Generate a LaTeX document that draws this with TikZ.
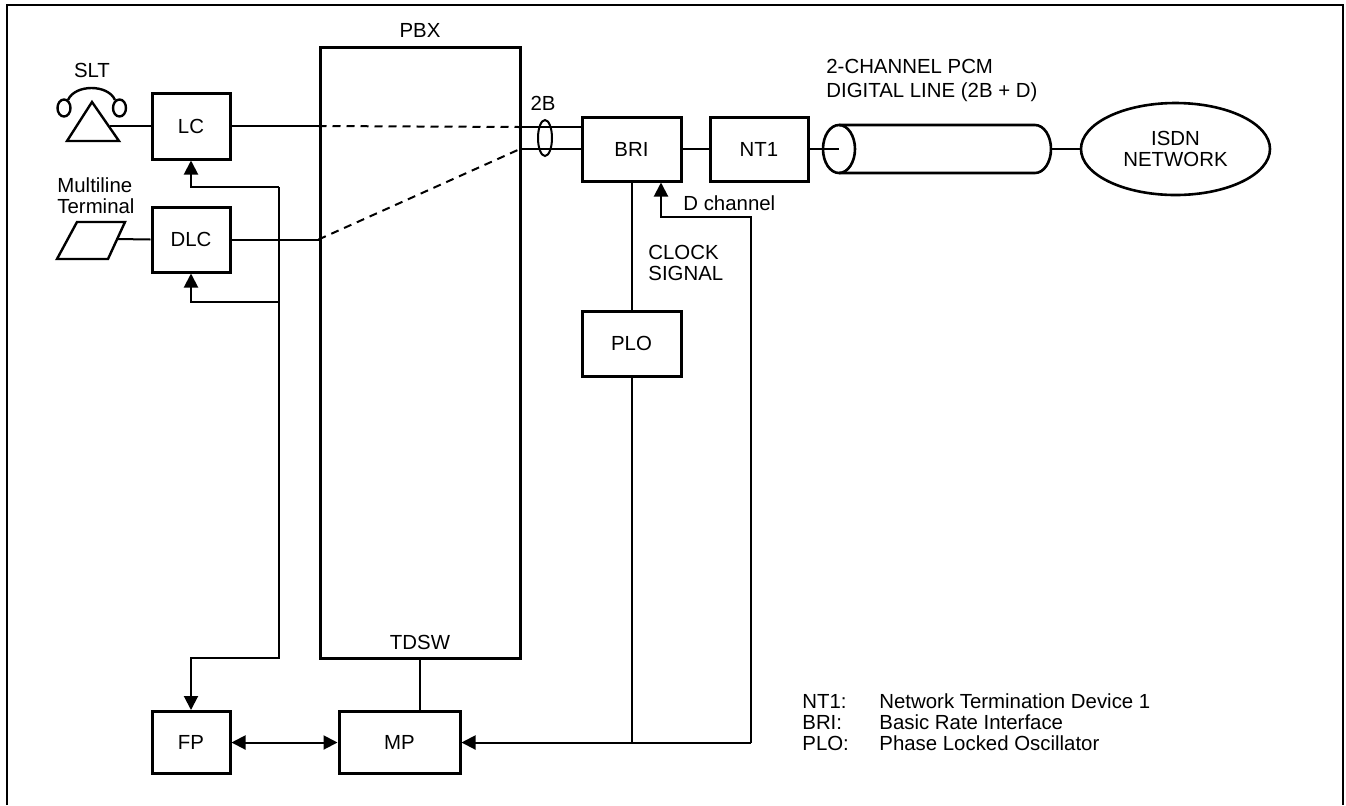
\documentclass[tikz,border=0pt]{standalone}
\usepackage{fontspec}
\setmainfont{Liberation Sans}
\usetikzlibrary{arrows.meta,shapes.geometric}

\begin{document}
\begin{tikzpicture}[x=0.5pt,y=-0.5pt,>={Triangle[length=7pt,width=7pt]},
  font=\fontsize{10.2}{10.5}\selectfont,
  box/.style={draw,line width=1.5pt,inner sep=0pt},
  wire/.style={line width=1pt},
  note/.style={anchor=west,inner sep=0pt,align=left}]

  \useasboundingbox (0,0) rectangle (1346,805);

  % Frame
  \draw[line width=1.3pt] (7,805) -- (7,5) -- (1343,5) -- (1343,805);

  % Boxes
  \node[box, minimum width=39pt, minimum height=33pt] (lc) at (191,126) {LC};
  \node[box, minimum width=39pt, minimum height=32.5pt] (dlc) at (191,239.5) {DLC};
  \node[box, minimum width=100pt, minimum height=305.5pt] (pbx) at (420,352.5) {};
  \node (pbxname) at (420,30) {PBX};
  \node (tdsw) at (420,642) {TDSW};
  \node[box, minimum width=49.5pt, minimum height=32pt] (bri) at (631.5,149) {BRI};
  \node[box, minimum width=49pt, minimum height=32pt] (nt1) at (759,149) {NT1};
  \node[box, minimum width=49.5pt, minimum height=32.5pt] (plo) at (631.5,343.5) {PLO};
  \node[box, minimum width=39pt, minimum height=31pt] (fp) at (191,742.5) {FP};
  \node[box, minimum width=60.5pt, minimum height=31pt] (mp) at (399.5,742.5) {MP};
  \node[ellipse, draw, line width=1.3pt, minimum width=94.5pt, minimum height=46pt,
    inner sep=0pt, align=center] (isdn) at (1175.5,149) {ISDN\\NETWORK};

  % Telephone
  \draw[line width=1.2pt] (92,102) -- (67,141) -- (119,141) -- cycle;
  \draw[line width=1.2pt] (64,108) ellipse [x radius=6.5, y radius=8.5];
  \draw[line width=1.2pt] (119.5,108) ellipse [x radius=6.5, y radius=8.5];
  \draw[line width=1.2pt] (68,100) .. controls (75,84) and (108,84) .. (115,100);
  \node (slt) at (92,70) {SLT};
  \coordinate (phone) at (110,126);

  % Terminal
  \draw[line width=1.2pt] (57,259) -- (108,259) -- (125,222) -- (77,222) -- cycle;
  \node[note] (mlt) at (57,196) {Multiline\\Terminal};
  \coordinate (term) at (117,239);

  % Lines through the PBX
  \coordinate (b1) at (520,127);
  \coordinate (b2) at (520,149);
  \draw[wire] (phone) -- (lc.west);
  \draw[wire] (term) -- (dlc.west);
  \draw[wire] (lc.east) -- (lc.east -| pbx.west);
  \draw[wire] (dlc.east) -- (dlc.east -| pbx.west);
  \draw[wire, dash pattern=on 4pt off 3pt] (lc.east -| pbx.west) -- (b1);
  \draw[wire, dash pattern=on 4pt off 3pt] (dlc.east -| pbx.west) -- (b2);
  \draw[wire] (b1) -- (b1 -| bri.west);
  \draw[wire] (b2) -- (bri.west);
  \draw[wire] (545,138) ellipse [x radius=7, y radius=18];
  \node (twob) at (543,103) {2B};

  % Digital line
  \coordinate (pcml) at (839,149);
  \coordinate (pcmr) at (1051,149);
  \draw[wire] (bri) -- (nt1);
  \draw[line width=1.3pt] (pcml) ellipse [x radius=16, y radius=24];
  \draw[line width=1.3pt] (839,125) -- (1035,125)
    arc[start angle=-90, end angle=90, x radius=16, y radius=24] -- (839,173);
  \draw[wire] (nt1) -- (pcml);
  \draw[wire] (pcmr) -- (isdn);
  \node[note] (pcm) at (826,80) {2-CHANNEL PCM\\[1.5pt]DIGITAL LINE (2B + D)};

  % Clock and D channel
  \coordinate (dtap) at (661,217);
  \coordinate (djoin) at (751,742.5);
  \draw[wire] (bri.south) -- (plo.north);
  \draw[wire] (plo.south) -- (plo.south |- djoin);
  \draw[wire,->] (djoin) |- (dtap) -- (dtap |- bri.south);
  \draw[wire,->] (djoin) -- (mp.east);
  \node[note] (clk) at (648,263) {CLOCK\\SIGNAL};
  \node[note] (dch) at (683,203) {D channel};

  % Control lines
  \coordinate (bus) at (279,187);
  \coordinate (dlctap) at (279,302);
  \coordinate (busend) at (279,658);
  \draw[wire,->] (bus) -| (lc.south);
  \draw[wire,->] (dlctap) -| (dlc.south);
  \draw[wire,->] (bus) -- (busend) -| (fp.north);
  \draw[wire] (pbx.south) -- (pbx.south |- mp.north);
  \draw[wire,<->] (fp.east) -- (mp.west);

  % Legend
  \node[note] (keynt) at (802,701) {NT1:};
  \node[note] (keybri) at (802,722) {BRI:};
  \node[note] (keyplo) at (802,743) {PLO:};
  \node[note] (textnt) at (879,701) {Network Termination Device 1};
  \node[note] (textbri) at (879,722) {Basic Rate Interface};
  \node[note] (textplo) at (879,743) {Phase Locked Oscillator};
\end{tikzpicture}
\end{document}
